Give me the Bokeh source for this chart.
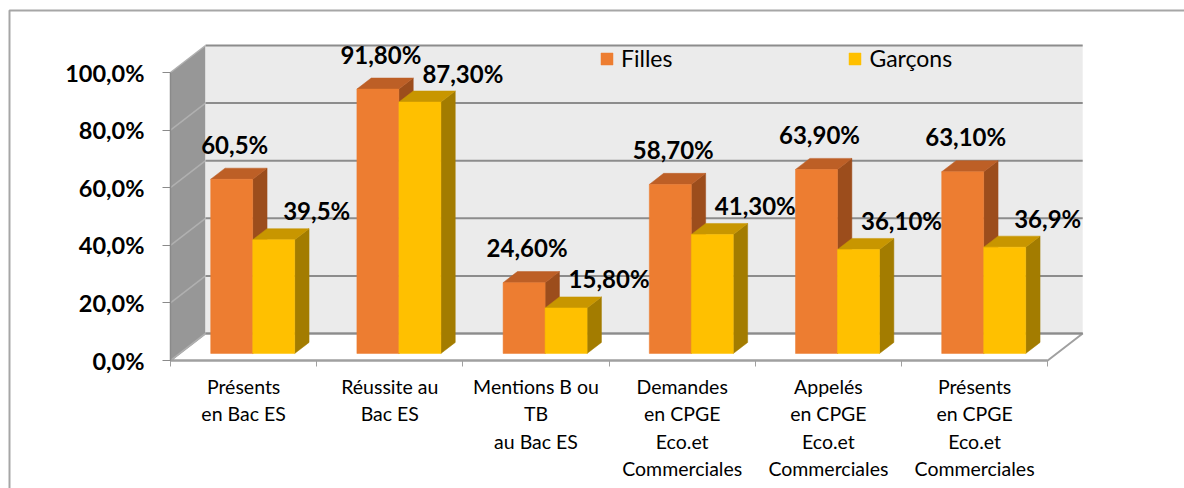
from bokeh.plotting import figure
from bokeh.models import Range1d, LinearAxis, FixedTicker, Legend, LegendItem
from bokeh.embed import file_html
from bokeh.resources import INLINE
from bokeh.core.properties import value

# ---------------- data ----------------
categories = [
    "Présents\nen Bac ES",
    "Réussite au\nBac ES",
    "Mentions B ou\nTB\nau Bac ES",
    "Demandes\nen CPGE\nEco.et\nCommerciales",
    "Appelés\nen CPGE\nEco.et\nCommerciales",
    "Présents\nen CPGE\nEco.et\nCommerciales",
]
series = ["Filles", "Garçons"]
filles = [60.5, 91.8, 24.6, 58.7, 63.9, 63.1]
garcons = [39.5, 87.3, 15.8, 41.3, 36.1, 36.9]
filles_labels = ["60,5%", "91,80%", "24,60%", "58,70%", "63,90%", "63,10%"]
garcons_labels = ["39,5%", "87,30%", "15,80%", "41,30%", "36,10%", "36,9%"]
y_ticks = [0, 20, 40, 60, 80, 100]
y_tick_labels = ["0,0%", "20,0%", "40,0%", "60,0%", "80,0%", "100,0%"]

# ---------------- layout / style ----------------
W, H = 1184, 488
X0, CW = 170.0, 146.2      # pixel of the front-left corner, pixels per category
Y0, PY = 360.0, 2.88       # pixel of 0 %, pixels per percent
DU, DV = 35.0 / CW, 27.0 / PY   # depth of the 3D box (data units)
D0, DD = 0.26, 0.41        # bar front depth and bar thickness (fractions of box depth)
BW = 42.0 / CW             # bar width
FONT_NAME = "Lato"
FONT = value(FONT_NAME)
ORANGE, ORANGE_TOP, ORANGE_SIDE = "#ED7D31", "#BD5F26", "#9C4D1C"
YELLOW, YELLOW_TOP, YELLOW_SIDE = "#FFC000", "#C89600", "#A37C00"

n = len(categories)
ymax = y_ticks[-1]

def ux(px):
    return (px - X0) / CW

def vy(py):
    return (Y0 - py) / PY

p = figure(width=W, height=H, output_backend="svg", toolbar_location=None,
           x_range=Range1d(ux(0), ux(W)), y_range=Range1d(vy(H), vy(0)),
           x_axis_location=None, y_axis_location=None, min_border=0,
           outline_line_color=None, background_fill_color="white",
           border_fill_color="white")
p.grid.visible = False

# outer chart border
p.quad(left=[ux(9)], right=[ux(W + 30)], top=[vy(10)], bottom=[vy(H + 30)],
       fill_color=None, line_color="#A6A6A6", line_width=2)

# side wall, back wall, floor
p.patch([0, DU, DU, 0], [0, DV, ymax + DV, ymax], fill_color="#979797", line_color=None)
p.patch([DU, n + DU, n + DU, DU], [DV, DV, ymax + DV, ymax + DV],
        fill_color="#EBEBEB", line_color=None)
p.patch([0, n, n + DU, DU], [0, 0, DV, DV], fill_color="white",
        line_color="#A0A0A0", line_width=2)

# gridlines on the back wall and the side wall
p.segment(x0=[DU] * len(y_ticks), y0=[t + DV for t in y_ticks],
          x1=[n + DU] * len(y_ticks), y1=[t + DV for t in y_ticks],
          line_color="#8C8C8C", line_width=2)
p.segment(x0=[0] * len(y_ticks), y0=y_ticks, x1=[DU] * len(y_ticks),
          y1=[t + DV for t in y_ticks], line_color="#B0B0B0", line_width=1.5)

# ---------------- bars ----------------
base = D0 * DV
ddx, ddy = DD * DU, DD * DV

def draw_bars(vals, offset, front, top, side):
    lefts = [i + 0.5 + D0 * DU + offset for i in range(n)]
    rights = [l + BW for l in lefts]
    tops = [v + base for v in vals]
    p.patches([[r, r + ddx, r + ddx, r] for r in rights],
              [[base, base + ddy, t + ddy, t] for t in tops],
              fill_color=side, line_color=side, line_width=0.5)
    p.patches([[l, r, r + ddx, l + ddx] for l, r in zip(lefts, rights)],
              [[t, t, t + ddy, t + ddy] for t in tops],
              fill_color=top, line_color=top, line_width=0.5)
    return p.quad(left=lefts, right=rights, bottom=[base] * n, top=tops,
                  fill_color=front, line_color=front, line_width=0.5)

r_f = draw_bars(filles, -BW, ORANGE, ORANGE_TOP, ORANGE_SIDE)
r_g = draw_bars(garcons, 0.0, YELLOW, YELLOW_TOP, YELLOW_SIDE)

# data labels
p.text(x=[i + 0.5 + D0 * DU - BW / 2 + 3 / CW for i in range(n)],
       y=[v + base + 35 / PY for v in filles], text=filles_labels,
       text_font=FONT, text_font_style="bold", text_font_size="24px",
       text_align="center", text_baseline="middle", text_color="black")
p.text(x=[i + 0.5 + D0 * DU + BW / 2 + 43 / CW for i in range(n)],
       y=[v + base + 29 / PY for v in garcons], text=garcons_labels,
       text_font=FONT, text_font_style="bold", text_font_size="24px",
       text_align="center", text_baseline="middle", text_color="black")

# ---------------- axes ----------------
yaxis = LinearAxis(fixed_location=0, ticker=FixedTicker(ticks=y_ticks),
                   major_label_overrides={t: l for t, l in zip(y_ticks, y_tick_labels)},
                   bounds=(0, ymax), axis_line_color="#8A8A8A", axis_line_width=1.5,
                   major_tick_out=8, major_tick_in=0, major_tick_line_color="#8A8A8A",
                   minor_tick_out=0, minor_tick_in=0,
                   major_label_text_font=FONT_NAME, major_label_text_font_style="bold",
                   major_label_text_font_size="23.5px", major_label_text_color="black",
                   major_label_standoff=18)
p.add_layout(yaxis, "left")

xticks = LinearAxis(fixed_location=0, ticker=FixedTicker(ticks=list(range(n + 1))),
                    major_label_overrides={i: "" for i in range(n + 1)},
                    bounds=(0, n), axis_line_color="#A0A0A0", axis_line_width=2,
                    major_tick_out=6, major_tick_in=0, major_tick_line_color="#A0A0A0",
                    minor_tick_out=0, minor_tick_in=0)
p.add_layout(xticks, "below")

xlabels = LinearAxis(fixed_location=0, ticker=FixedTicker(ticks=[i + 0.5 for i in range(n)]),
                     major_label_overrides={i + 0.5: c for i, c in enumerate(categories)},
                     axis_line_color=None, major_tick_out=0, major_tick_in=0,
                     minor_tick_out=0, minor_tick_in=0,
                     major_label_text_font=FONT_NAME, major_label_text_font_size="19.5px",
                     major_label_text_color="black", major_label_standoff=14)
p.add_layout(xlabels, "below")

# ---------------- legend ----------------
legend = Legend(items=[LegendItem(label=series[0], renderers=[r_f]),
                       LegendItem(label=series[1], renderers=[r_g])],
                orientation="horizontal", location=(599, 416), padding=0, margin=0,
                spacing=175, glyph_width=15, glyph_height=15, label_standoff=7,
                border_line_color=None, background_fill_alpha=0,
                label_text_font=FONT_NAME, label_text_font_size="23px",
                label_text_color="black")
p.add_layout(legend, "center")

open("out.html", "w").write(file_html(p, INLINE))
